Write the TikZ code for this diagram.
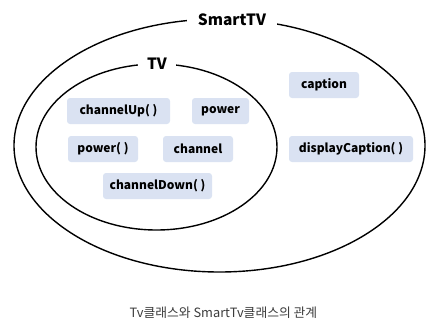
\documentclass[tikz,border=0pt]{standalone}
\usepackage{fontspec}
\setmainfont{Noto Sans CJK KR}
\newfontfamily\cjk{Noto Sans CJK KR}
\definecolor{boxfill}{RGB}{218,226,242}
\definecolor{captiongray}{RGB}{60,60,60}
\begin{document}
\begin{tikzpicture}[x=1pt,y=-1pt,
  item/.style={fill=boxfill, rounded corners=3pt, minimum height=26pt, inner sep=0pt,
    font=\bfseries\fontsize{12}{13}\selectfont},
  setlabel/.style={fill=white, inner xsep=11pt, inner ysep=2pt},
  setline/.style={line width=1.4pt}]
\useasboundingbox (0,0) rectangle (434,330);
\draw[setline] (219.5,145.5) ellipse [x radius=205.5, y radius=126.5];
\draw[setline] (156.5,147) ellipse [x radius=120.5, y radius=83];
\node[setlabel, font=\bfseries\fontsize{15.5}{17}\selectfont] (smart) at (232,20) {SmartTV};
\node[setlabel, inner xsep=9pt, font=\bfseries\fontsize{15.5}{17}\selectfont] (tv) at (157,64) {TV};
\node[item, minimum width=103pt] (chup) at (118.5,111) {channelUp( )};
\node[item, minimum width=57pt] (pw) at (220.5,111) {power};
\node[item, minimum width=70pt] (pwf) at (103,149) {power( )};
\node[item, minimum width=70pt] (ch) at (198,149) {channel};
\node[item, minimum width=109pt] (chdn) at (157.5,186) {channelDown( )};
\node[item, minimum width=70pt] (cap) at (324,85) {caption};
\node[item, minimum width=124pt] (dcap) at (351,149) {displayCaption( )};
\node[text=captiongray, font=\cjk\fontsize{12.8}{14}\selectfont] (title) at (223.5,313) {Tv클래스와 SmartTv클래스의 관계};
\end{tikzpicture}
\end{document}
